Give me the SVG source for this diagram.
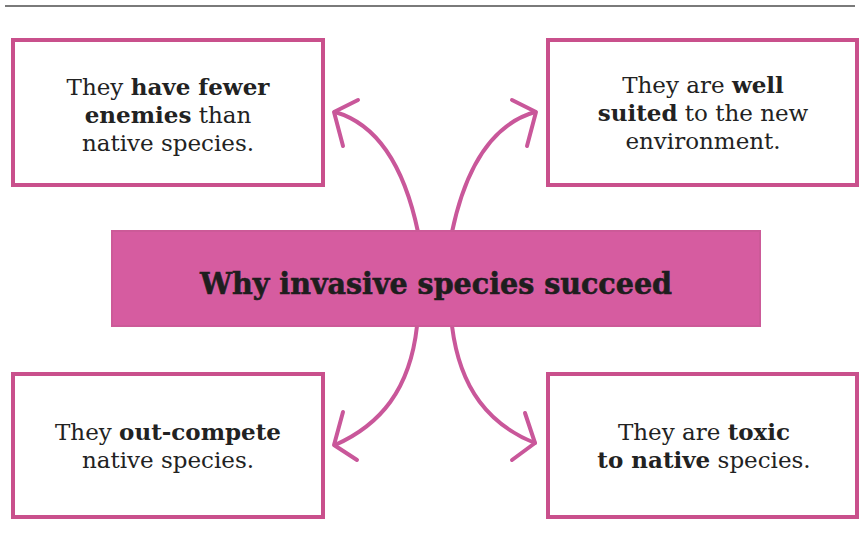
<svg xmlns="http://www.w3.org/2000/svg" width="861" height="552" viewBox="0 0 861 552">
<style>
.box{fill:#ffffff;stroke:#c9508c;stroke-width:4}
.bar{fill:#d65ca0;stroke:#cc5a98;stroke-width:2}
.t{font-family:"DejaVu Serif","Liberation Serif",serif;font-size:23px;fill:#222;text-anchor:middle;font-weight:300}
.b{font-weight:bold}
.title{font-family:"DejaVu Serif","Liberation Serif",serif;font-size:29px;font-weight:bold;fill:#1e1e1e;text-anchor:middle;stroke:#1e1e1e;stroke-width:0.6}
.arr{fill:none;stroke:#c9579a;stroke-width:4;stroke-linecap:round;stroke-linejoin:round}
</style>
<rect width="861" height="552" fill="#ffffff"/>
<line x1="5" y1="6" x2="855" y2="6" stroke="#7a7a7a" stroke-width="2"/>
<g id="connectors">
<path class="arr" d="M418,232 C405,170 380,125 335,112"/>
<path class="arr" d="M358,100 L334,112 L343,146"/>
<path class="arr" d="M452,232 C465,170 490,125 535,112"/>
<path class="arr" d="M512,100 L536,112 L527,146"/>
<path class="arr" d="M417,326 C410,390 380,425 335,445"/>
<path class="arr" d="M343,412 L334,445 L357,460"/>
<path class="arr" d="M452,326 C460,390 490,425 535,443"/>
<path class="arr" d="M525,413 L535,443 L512,460"/>
</g>
<g id="center">
<rect class="bar" x="112" y="231" width="648" height="95"/>
<text class="title" x="436" y="294" textLength="472" lengthAdjust="spacingAndGlyphs">Why invasive species succeed</text>
</g>
<g id="top-left">
<rect class="box" x="13" y="40" width="310" height="145"/>
<text class="t" x="168" y="95">They <tspan class="b">have fewer</tspan></text>
<text class="t" x="168" y="123"><tspan class="b">enemies</tspan> than</text>
<text class="t" x="168" y="151">native species.</text>
</g>
<g id="top-right">
<rect class="box" x="548" y="40" width="309" height="145"/>
<text class="t" x="703" y="93">They are <tspan class="b">well</tspan></text>
<text class="t" x="703" y="121"><tspan class="b">suited</tspan> to the new</text>
<text class="t" x="703" y="149">environment.</text>
</g>
<g id="bottom-left">
<rect class="box" x="13" y="374" width="310" height="143"/>
<text class="t" x="168" y="440">They <tspan class="b">out-compete</tspan></text>
<text class="t" x="168" y="468">native species.</text>
</g>
<g id="bottom-right">
<rect class="box" x="548" y="374" width="309" height="143"/>
<text class="t" x="704" y="440">They are <tspan class="b">toxic</tspan></text>
<text class="t" x="704" y="468"><tspan class="b">to native</tspan> species.</text>
</g>
</svg>
